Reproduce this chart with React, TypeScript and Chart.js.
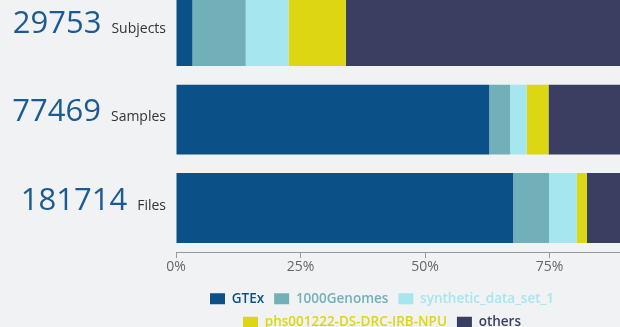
import React, { useEffect, useRef } from "react";
import { Chart, registerables } from "chart.js";

Chart.register(...registerables);

const categories = ["Subjects", "Samples", "Files"];
const counts = ["29753", "77469", "181714"];
const seriesNames = ["GTEx", "1000Genomes", "synthetic_data_set_1", "phs001222-DS-DRC-IRB-NPU", "others"];
const gtex = [3.3, 62.9, 67.7];
const genomes1000 = [10.7, 4.2, 7.2];
const synthetic = [8.6, 3.3, 5.6];
const phs = [11.5, 4.4, 2.0];
const others = [65.9, 25.2, 17.5];
const xTicks = [0, 25, 50, 75, 100];

const seriesValues = [gtex, genomes1000, synthetic, phs, others];
const COLORS = ["#0b5187", "#72b0b9", "#a5e6ef", "#dcd712", "#3a3f62"];
const FONT = "'Open Sans', sans-serif";
const LEGEND_LEFT = 124;
const LEGEND_RIGHT = 640;

const leftLabels = {
  id: "leftLabels",
  beforeLayout(chart: any) {
    const lg = chart.legend;
    if (lg && !lg._wrapPatched) {
      const orig = lg.update.bind(lg);
      lg.update = (mw: number, mh: number, m: any) =>
        orig(Math.min(mw, LEGEND_RIGHT - LEGEND_LEFT), mh, m);
      lg._wrapPatched = true;
    }
  },
  afterLayout(chart: any) {
    const lg = chart.legend;
    if (lg) {
      lg.left = LEGEND_LEFT;
      lg.right = LEGEND_RIGHT;
      lg.width = LEGEND_RIGHT - LEGEND_LEFT;
    }
  },
  afterDraw(chart: any) {
    const ctx = chart.ctx;
    const y = chart.scales.y;
    const rightX = y.right - 10;
    ctx.save();
    categories.forEach((cat, i) => {
      const cy = y.getPixelForValue(i) + 1.5;
      ctx.textBaseline = "alphabetic";
      ctx.textAlign = "right";
      ctx.font = `14px ${FONT}`;
      ctx.fillStyle = "#333333";
      ctx.fillText(cat, rightX, cy);
      const w = ctx.measureText(cat).width;
      ctx.font = `31px ${FONT}`;
      ctx.fillStyle = "#1b5a94";
      ctx.fillText(counts[i], rightX - w - 10, cy);
    });
    ctx.restore();
  },
};

export default function App() {
  const ref = useRef<HTMLCanvasElement | null>(null);
  useEffect(() => {
    if (!ref.current) return;
    const chart = new Chart(ref.current, {
      type: "bar",
      data: {
        labels: categories,
        datasets: seriesNames.map((name, i) => ({
          label: name,
          data: seriesValues[i],
          backgroundColor: COLORS[i],
          borderWidth: 0,
          barPercentage: 0.79,
          categoryPercentage: 1,
        })),
      },
      options: {
        indexAxis: "y",
        animation: false,
        responsive: false,
        devicePixelRatio: 1,
        layout: { padding: 0 },
        font: { family: FONT },
        scales: {
          x: {
            type: "linear",
            stacked: true,
            min: 0,
            max: 100,
            afterBuildTicks(scale: any) {
              scale.ticks = xTicks.map((v) => ({ value: v }));
            },
            ticks: {
              padding: 0,
              color: "#666666",
              font: { family: FONT, size: 14 },
              callback: (v: any) => v + "%",
              maxRotation: 0,
            },
            grid: { drawOnChartArea: false, drawTicks: true, tickLength: 6, color: "#999999" },
            border: { display: true, color: "#999999" },
            afterFit(scale: any) {
              scale.height += 7;
            },
          },
          y: {
            type: "category",
            stacked: true,
            position: "left",
            ticks: { display: false },
            grid: { display: false },
            border: { display: false },
            afterFit(scale: any) {
              scale.width = 176;
            },
          },
          yR: {
            type: "linear",
            position: "right",
            display: true,
            ticks: { display: false },
            grid: { display: false },
            border: { display: false },
            afterFit(scale: any) {
              scale.width = 100;
            },
          },
        },
        plugins: {
          tooltip: { enabled: false },
          legend: {
            position: "bottom",
            labels: {
              boxWidth: 15,
              boxHeight: 11,
              padding: 10,
              font: { family: FONT, size: 13.5, weight: "600" },
              generateLabels(ch: any) {
                const items = (Chart.defaults.plugins.legend.labels as any).generateLabels(ch);
                items.forEach((it: any, i: number) => {
                  it.fontColor = COLORS[i];
                  it.lineWidth = 0;
                });
                return items;
              },
            },
          },
        },
      } as any,
      plugins: [leftLabels],
    });
    return () => chart.destroy();
  }, []);
  return (
    <div
      style={{
        position: "fixed",
        left: 0,
        top: 0,
        width: 620,
        height: 327,
        overflow: "hidden",
        background: "#f1f2f3",
      }}
    >
      <canvas
        ref={ref}
        width={774}
        height={352}
        style={{ position: "absolute", left: 0, top: -13, width: 774, height: 352 }}
      />
    </div>
  );
}
